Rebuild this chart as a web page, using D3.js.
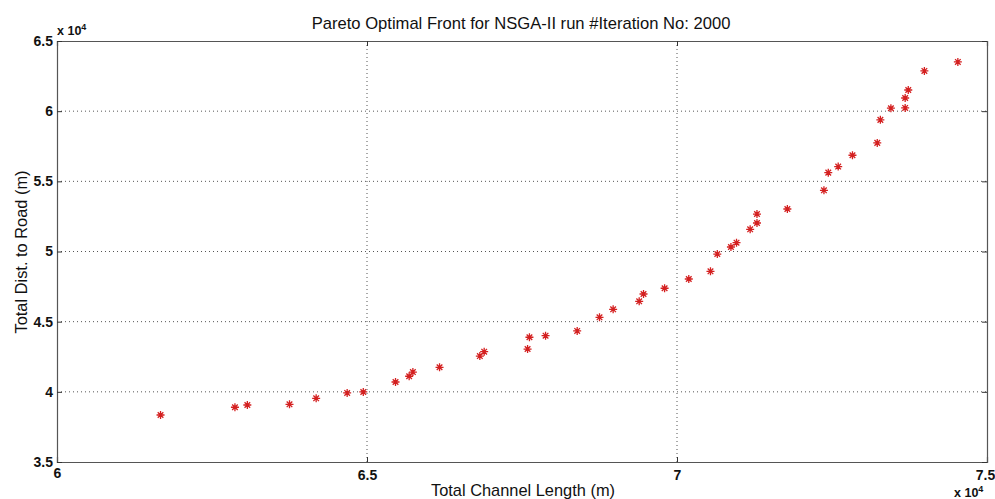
<!DOCTYPE html>
<html><head><meta charset="utf-8">
<script src="https://cdn.jsdelivr.net/npm/d3@7"></script>
<style>body{margin:0;background:#fff}svg{display:block}</style>
</head><body>
<svg id="chart" width="995" height="499"></svg>
<script>
// Data (values in units of 1e4)
const channelLength = [6.167,6.287,6.307,6.375,6.418,6.468,6.494,6.546,6.568,6.574,6.617,6.682,6.689,6.759,6.762,6.788,6.839,6.875,6.897,6.939,6.946,6.980,7.019,7.054,7.065,7.087,7.096,7.118,7.129,7.129,7.178,7.237,7.244,7.260,7.283,7.323,7.328,7.345,7.368,7.368,7.373,7.399,7.453];
const distToRoad    = [3.835,3.890,3.906,3.911,3.954,3.992,3.999,4.070,4.111,4.141,4.175,4.255,4.286,4.305,4.389,4.400,4.434,4.531,4.588,4.645,4.697,4.738,4.804,4.859,4.982,5.032,5.063,5.158,5.203,5.267,5.303,5.436,5.562,5.605,5.686,5.774,5.938,6.021,6.023,6.094,6.151,6.287,6.351];
const xTicks = [6, 6.5, 7, 7.5];
const yTicks = [3.5, 4, 4.5, 5, 5.5, 6, 6.5];
const titleText = "Pareto Optimal Front for NSGA-II run #Iteration No: 2000";
const xLabel = "Total Channel Length (m)";
const yLabel = "Total Dist. to Road (m)";

const svg = d3.select("#chart");
const L = 57, R = 987, T = 41, B = 462;
const x = d3.scaleLinear().domain([6, 7.5]).range([L, R]);
const y = d3.scaleLinear().domain([3.5, 6.5]).range([B, T]);
const font = "'Liberation Sans', Arial, sans-serif";

// grid
const g = svg.append("g");
g.selectAll(".gx").data(xTicks.slice(1, -1)).enter().append("line")
  .attr("x1", d => x(d)).attr("x2", d => x(d)).attr("y1", T).attr("y2", B)
  .attr("stroke", "#555").attr("stroke-width", 1).attr("stroke-dasharray", "1,3");
g.selectAll(".gy").data(yTicks.slice(1, -1)).enter().append("line")
  .attr("y1", d => y(d)).attr("y2", d => y(d)).attr("x1", L).attr("x2", R)
  .attr("stroke", "#555").attr("stroke-width", 1).attr("stroke-dasharray", "1,3");

// axes (ticks inward, on all four sides)
const tk = 5;
const axB = d3.axisBottom(x).tickValues(xTicks).tickSize(-tk).tickPadding(8).tickFormat(d3.format("~g"));
const axT = d3.axisTop(x).tickValues(xTicks).tickSize(-tk).tickFormat("");
const axLft = d3.axisLeft(y).tickValues(yTicks).tickSize(-tk).tickPadding(4).tickFormat(d3.format("~g"));
const axRt = d3.axisRight(y).tickValues(yTicks).tickSize(-tk).tickFormat("");
function style(sel){
  sel.selectAll("path").attr("stroke", "#555").attr("stroke-width", 1.2);
  sel.selectAll("line").attr("stroke", "#333");
  sel.selectAll("text").attr("font-family", font).attr("font-size", 14).attr("font-weight", "bold").attr("fill", "#111");
}
const gB = svg.append("g").attr("transform", `translate(0,${B})`).call(axB).call(style);
svg.append("g").attr("transform", `translate(0,${T})`).call(axT).call(style);
svg.append("g").attr("transform", `translate(${L},0)`).call(axLft).call(style);
svg.append("g").attr("transform", `translate(${R},0)`).call(axRt).call(style);
// keep last x label inside the window
gB.selectAll(".tick text").filter(d => d === 7.5).attr("dx", -2);
gB.selectAll(".tick text").filter(d => d === 6).attr("dy", "0.6em");

// markers: asterisks
const pts = channelLength.map((v, i) => [v, distToRoad[i]]);
const s = 4;
const star = svg.append("g").attr("stroke", "#d42020").attr("stroke-width", 1.3).attr("fill", "none");
pts.forEach(p => {
  const cx = x(p[0]), cy = y(p[1]);
  const d = `M${cx-s},${cy}L${cx+s},${cy}M${cx},${cy-s}L${cx},${cy+s}` +
    `M${cx-s*0.7},${cy-s*0.7}L${cx+s*0.7},${cy+s*0.7}M${cx-s*0.7},${cy+s*0.7}L${cx+s*0.7},${cy-s*0.7}`;
  star.append("path").attr("d", d);
});

// title and labels
svg.append("text").attr("x", 521).attr("y", 29).attr("text-anchor", "middle")
  .attr("font-family", font).attr("font-size", 16.6).attr("fill", "#111").text(titleText);
svg.append("text").attr("x", 523).attr("y", 496).attr("text-anchor", "middle")
  .attr("font-family", font).attr("font-size", 16.4).attr("fill", "#111").text(xLabel);
svg.append("text").attr("transform", `translate(27,252) rotate(-90)`).attr("text-anchor", "middle")
  .attr("font-family", font).attr("font-size", 16.4).attr("fill", "#111").text(yLabel);

// exponent labels
function expo(xp, yp){
  const t = svg.append("text").attr("x", xp).attr("y", yp).attr("font-family", font)
    .attr("font-size", 12.5).attr("font-weight", "bold").attr("fill", "#111");
  t.append("tspan").text("x 10");
  t.append("tspan").attr("dy", -5).attr("font-size", 9).text("4");
}
expo(57, 35);
expo(954, 497);
</script>
</body></html>
